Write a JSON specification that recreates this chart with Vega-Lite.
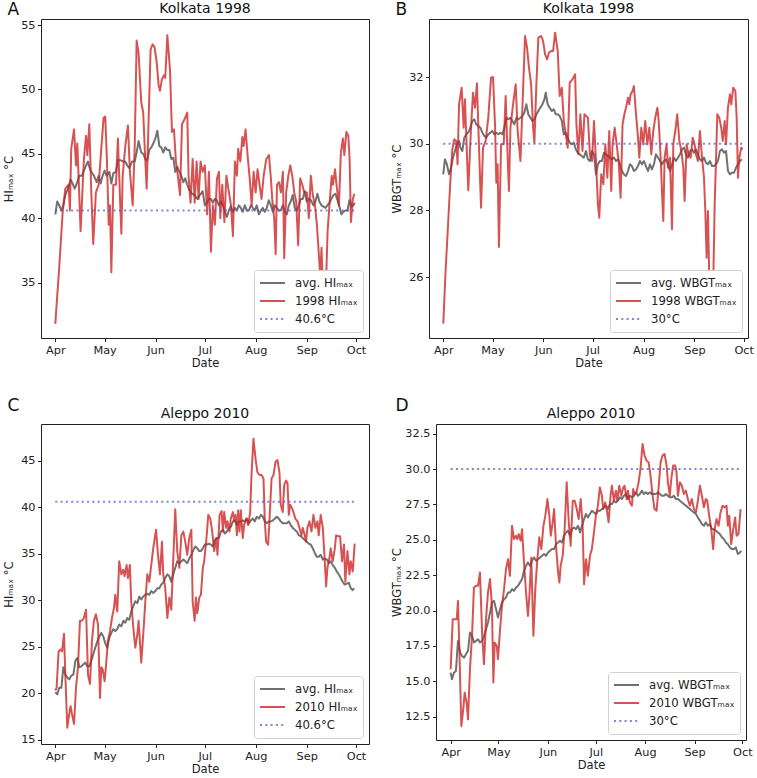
{
"$schema":"https://vega.github.io/schema/vega-lite/v6.json",
"padding":{"left":2,"top":0,"right":0,"bottom":0},
"background":"white",
"config":{
"font":"DejaVu Sans",
"view":{"stroke":"#222","strokeWidth":1},
"axis":{"domain":false,"grid":false,"tickSize":3.5,"tickColor":"#222","labelFontSize":11.3,"labelColor":"#222","labelPadding":2.5,"titleFontSize":11.5,"titleFontWeight":"normal","titleColor":"#222","labelFlush":false,"labelOverlap":false},
"axisX":{"titlePadding":2},
"title":{"fontSize":14,"fontWeight":"normal","color":"#111","offset":3},
"legend":{"symbolType":"stroke","symbolSize":625,"symbolStrokeWidth":2,"labelOffset":9,"clipHeight":16,"rowPadding":2,"padding":5,"fillColor":"white","strokeColor":"#d0d0d0","cornerRadius":3,"labelFontSize":11.7,"labelColor":"#222"}
},
"datasets":{
"A":[
{"s":"a","d":0,"v":40.3},{"s":"a","d":1.2,"v":41.3},{"s":"a","d":2.4,"v":41.0},{"s":"a","d":3.7,"v":40.6},{"s":"a","d":4.9,"v":41.0},{"s":"a","d":6.1,"v":41.8},{"s":"a","d":7.7,"v":42.3},{"s":"a","d":9.3,"v":43.0},{"s":"a","d":10.5,"v":42.7},{"s":"a","d":11.8,"v":42.3},{"s":"a","d":13.4,"v":42.8},{"s":"a","d":14.6,"v":43.3},{"s":"a","d":16.2,"v":43.3},{"s":"a","d":17.4,"v":43.7},{"s":"a","d":18.7,"v":44.1},{"s":"a","d":19.9,"v":44.4},{"s":"a","d":20.7,"v":44.0},{"s":"a","d":21.9,"v":43.6},{"s":"a","d":23.5,"v":43.3},{"s":"a","d":25.2,"v":42.8},{"s":"a","d":26.4,"v":43.3},{"s":"a","d":27.6,"v":42.7},{"s":"a","d":28.8,"v":43.3},{"s":"a","d":30,"v":43.7},{"s":"a","d":31.2,"v":43.3},{"s":"a","d":32.9,"v":43.6},{"s":"a","d":34.1,"v":42.7},{"s":"a","d":35.3,"v":43.5},{"s":"a","d":36.9,"v":43.6},{"s":"a","d":38.1,"v":44.5},{"s":"a","d":39.8,"v":44.5},{"s":"a","d":41.4,"v":44.4},{"s":"a","d":42.6,"v":44.4},{"s":"a","d":43.8,"v":44.1},{"s":"a","d":45,"v":43.9},{"s":"a","d":46.7,"v":44.4},{"s":"a","d":48.3,"v":44.4},{"s":"a","d":49.5,"v":45.1},{"s":"a","d":50.7,"v":46.0},{"s":"a","d":52.3,"v":45.1},{"s":"a","d":53.5,"v":45.0},{"s":"a","d":54.8,"v":44.6},{"s":"a","d":56,"v":44.5},{"s":"a","d":57.2,"v":45.3},{"s":"a","d":58.4,"v":45.5},{"s":"a","d":59.6,"v":45.8},{"s":"a","d":60.9,"v":46.2},{"s":"a","d":62.1,"v":46.8},{"s":"a","d":63.3,"v":45.6},{"s":"a","d":64.5,"v":45.5},{"s":"a","d":65.7,"v":45.1},{"s":"a","d":66.9,"v":45.5},{"s":"a","d":68.2,"v":45.3},{"s":"a","d":69.4,"v":45.3},{"s":"a","d":70.6,"v":44.6},{"s":"a","d":71.8,"v":44.7},{"s":"a","d":73,"v":43.6},{"s":"a","d":74.2,"v":44.0},{"s":"a","d":75.5,"v":43.6},{"s":"a","d":76.7,"v":43.3},{"s":"a","d":77.9,"v":42.8},{"s":"a","d":79.1,"v":43.1},{"s":"a","d":80.3,"v":42.6},{"s":"a","d":81.5,"v":42.2},{"s":"a","d":83.2,"v":41.9},{"s":"a","d":84.8,"v":41.8},{"s":"a","d":86.4,"v":41.5},{"s":"a","d":88,"v":41.8},{"s":"a","d":89.7,"v":42.1},{"s":"a","d":91,"v":41.0},{"s":"a","d":92.2,"v":41.2},{"s":"a","d":93.5,"v":41.5},{"s":"a","d":94.7,"v":41.5},{"s":"a","d":95.9,"v":41.2},{"s":"a","d":97.1,"v":41.5},{"s":"a","d":98.3,"v":41.4},{"s":"a","d":99.5,"v":41.0},{"s":"a","d":100.8,"v":41.3},{"s":"a","d":102,"v":41.0},{"s":"a","d":103.2,"v":40.5},{"s":"a","d":104.4,"v":40.1},{"s":"a","d":105.6,"v":40.6},{"s":"a","d":106.8,"v":40.9},{"s":"a","d":108.1,"v":40.5},{"s":"a","d":109.3,"v":40.8},{"s":"a","d":110.5,"v":40.6},{"s":"a","d":111.7,"v":41.0},{"s":"a","d":112.9,"v":40.8},{"s":"a","d":114.1,"v":40.5},{"s":"a","d":115.3,"v":41.0},{"s":"a","d":116.6,"v":40.6},{"s":"a","d":117.8,"v":40.6},{"s":"a","d":119,"v":41.0},{"s":"a","d":120.2,"v":40.8},{"s":"a","d":121.4,"v":40.6},{"s":"a","d":122.6,"v":41.0},{"s":"a","d":123.9,"v":40.3},{"s":"a","d":125.1,"v":40.6},{"s":"a","d":126.3,"v":40.8},{"s":"a","d":127.5,"v":40.5},{"s":"a","d":128.7,"v":40.8},{"s":"a","d":129.9,"v":41.4},{"s":"a","d":131.2,"v":41.0},{"s":"a","d":132.4,"v":40.5},{"s":"a","d":133.6,"v":41.0},{"s":"a","d":134.8,"v":40.8},{"s":"a","d":136,"v":40.6},{"s":"a","d":137.2,"v":40.6},{"s":"a","d":138.4,"v":41.0},{"s":"a","d":139.7,"v":40.5},{"s":"a","d":140.9,"v":40.3},{"s":"a","d":142.1,"v":41.0},{"s":"a","d":143.3,"v":41.3},{"s":"a","d":144.5,"v":41.8},{"s":"a","d":145.7,"v":40.8},{"s":"a","d":147,"v":40.6},{"s":"a","d":148.2,"v":41.0},{"s":"a","d":149.4,"v":41.5},{"s":"a","d":150.6,"v":41.5},{"s":"a","d":151.8,"v":42.1},{"s":"a","d":153,"v":41.3},{"s":"a","d":154.3,"v":41.5},{"s":"a","d":155.5,"v":41.4},{"s":"a","d":157.1,"v":41.0},{"s":"a","d":158.3,"v":41.3},{"s":"a","d":159.5,"v":41.9},{"s":"a","d":160.7,"v":41.3},{"s":"a","d":162,"v":41.0},{"s":"a","d":163.2,"v":40.9},{"s":"a","d":164.4,"v":40.8},{"s":"a","d":165.6,"v":41.0},{"s":"a","d":166.8,"v":41.2},{"s":"a","d":168,"v":41.5},{"s":"a","d":169.2,"v":41.8},{"s":"a","d":170.5,"v":41.9},{"s":"a","d":171.7,"v":41.4},{"s":"a","d":172.9,"v":40.9},{"s":"a","d":174.1,"v":40.3},{"s":"a","d":175.3,"v":40.5},{"s":"a","d":176.5,"v":40.6},{"s":"a","d":177.8,"v":40.6},{"s":"a","d":179,"v":41.4},{"s":"a","d":180.2,"v":40.9},{"s":"a","d":181.4,"v":41.0},{"s":"a","d":182.2,"v":41.2},
{"s":"o","d":0,"v":31.8},{"s":"o","d":2.4,"v":36.2},{"s":"o","d":4.5,"v":40.5},{"s":"o","d":6.1,"v":42.3},{"s":"o","d":8.1,"v":42.6},{"s":"o","d":8.9,"v":40.6},{"s":"o","d":9.7,"v":45.4},{"s":"o","d":11.4,"v":46.9},{"s":"o","d":12.6,"v":44.1},{"s":"o","d":13.4,"v":45.8},{"s":"o","d":15.4,"v":39.0},{"s":"o","d":17.4,"v":44.6},{"s":"o","d":18.7,"v":46.4},{"s":"o","d":19.5,"v":44.9},{"s":"o","d":20.7,"v":47.3},{"s":"o","d":21.9,"v":42.0},{"s":"o","d":23.1,"v":38.0},{"s":"o","d":24.7,"v":42.0},{"s":"o","d":26.4,"v":42.6},{"s":"o","d":27.8,"v":45.1},{"s":"o","d":29.4,"v":47.8},{"s":"o","d":30.4,"v":47.9},{"s":"o","d":31.4,"v":44.6},{"s":"o","d":32.5,"v":39.5},{"s":"o","d":33.3,"v":41.0},{"s":"o","d":34.1,"v":35.8},{"s":"o","d":35.3,"v":42.6},{"s":"o","d":36.9,"v":42.6},{"s":"o","d":38.1,"v":46.2},{"s":"o","d":39.4,"v":41.5},{"s":"o","d":40.2,"v":38.8},{"s":"o","d":41,"v":43.3},{"s":"o","d":42.6,"v":45.6},{"s":"o","d":44.2,"v":47.2},{"s":"o","d":45.4,"v":43.6},{"s":"o","d":47.1,"v":41.0},{"s":"o","d":48.3,"v":45.4},{"s":"o","d":49.5,"v":53.8},{"s":"o","d":50.7,"v":52.8},{"s":"o","d":52.3,"v":49.0},{"s":"o","d":53.5,"v":48.2},{"s":"o","d":54.8,"v":44.4},{"s":"o","d":55.6,"v":42.3},{"s":"o","d":56.8,"v":47.7},{"s":"o","d":58,"v":53.1},{"s":"o","d":59.2,"v":53.5},{"s":"o","d":60.4,"v":53.3},{"s":"o","d":61.7,"v":52.1},{"s":"o","d":62.9,"v":50.3},{"s":"o","d":63.7,"v":49.9},{"s":"o","d":64.9,"v":50.8},{"s":"o","d":66.1,"v":51.1},{"s":"o","d":66.9,"v":50.9},{"s":"o","d":68.2,"v":54.2},{"s":"o","d":69.8,"v":51.5},{"s":"o","d":71,"v":46.7},{"s":"o","d":72.2,"v":46.9},{"s":"o","d":73.4,"v":44.4},{"s":"o","d":74.6,"v":43.3},{"s":"o","d":75.9,"v":41.8},{"s":"o","d":77.1,"v":47.3},{"s":"o","d":78.7,"v":47.7},{"s":"o","d":80.3,"v":48.2},{"s":"o","d":81.1,"v":43.3},{"s":"o","d":82.3,"v":41.2},{"s":"o","d":83.6,"v":44.6},{"s":"o","d":84.8,"v":41.2},{"s":"o","d":86,"v":44.4},{"s":"o","d":87.2,"v":41.5},{"s":"o","d":88.4,"v":44.4},{"s":"o","d":89.7,"v":43.6},{"s":"o","d":91,"v":44.1},{"s":"o","d":92.4,"v":40.3},{"s":"o","d":93.5,"v":43.6},{"s":"o","d":94.7,"v":37.4},{"s":"o","d":95.9,"v":41.0},{"s":"o","d":97.1,"v":39.5},{"s":"o","d":98.4,"v":43.1},{"s":"o","d":99.6,"v":43.6},{"s":"o","d":100.4,"v":40.0},{"s":"o","d":101.6,"v":42.6},{"s":"o","d":102.9,"v":39.7},{"s":"o","d":104.1,"v":43.3},{"s":"o","d":105.7,"v":42.0},{"s":"o","d":106.9,"v":41.0},{"s":"o","d":108.1,"v":38.6},{"s":"o","d":109.3,"v":44.4},{"s":"o","d":110.5,"v":43.3},{"s":"o","d":111.3,"v":45.4},{"s":"o","d":112.6,"v":44.4},{"s":"o","d":113.8,"v":46.3},{"s":"o","d":114.6,"v":45.6},{"s":"o","d":115.8,"v":46.9},{"s":"o","d":117,"v":44.9},{"s":"o","d":118.3,"v":43.1},{"s":"o","d":119.5,"v":41.0},{"s":"o","d":120.7,"v":43.6},{"s":"o","d":121.9,"v":42.0},{"s":"o","d":123.1,"v":43.8},{"s":"o","d":124.3,"v":42.6},{"s":"o","d":125.5,"v":41.5},{"s":"o","d":126.8,"v":43.3},{"s":"o","d":128.4,"v":44.6},{"s":"o","d":130,"v":44.9},{"s":"o","d":131.2,"v":43.1},{"s":"o","d":132,"v":41.5},{"s":"o","d":133.2,"v":40.0},{"s":"o","d":134.1,"v":37.2},{"s":"o","d":134.9,"v":42.6},{"s":"o","d":136.1,"v":42.8},{"s":"o","d":137.3,"v":42.0},{"s":"o","d":138.5,"v":43.6},{"s":"o","d":139.3,"v":36.9},{"s":"o","d":140.5,"v":42.0},{"s":"o","d":141.8,"v":43.3},{"s":"o","d":143,"v":44.1},{"s":"o","d":144.2,"v":43.3},{"s":"o","d":145.4,"v":42.0},{"s":"o","d":146.6,"v":41.3},{"s":"o","d":147.8,"v":37.9},{"s":"o","d":149,"v":43.1},{"s":"o","d":150.3,"v":42.6},{"s":"o","d":151.5,"v":42.0},{"s":"o","d":153.1,"v":42.0},{"s":"o","d":154.3,"v":40.0},{"s":"o","d":155.5,"v":43.3},{"s":"o","d":156.7,"v":41.8},{"s":"o","d":158,"v":41.0},{"s":"o","d":159.2,"v":39.5},{"s":"o","d":160,"v":37.9},{"s":"o","d":161.2,"v":35.6},{"s":"o","d":162,"v":37.7},{"s":"o","d":162.9,"v":34.4},{"s":"o","d":163.7,"v":32.8},{"s":"o","d":164.9,"v":35.6},{"s":"o","d":165.7,"v":39.0},{"s":"o","d":167,"v":41.3},{"s":"o","d":168.2,"v":43.3},{"s":"o","d":169,"v":42.6},{"s":"o","d":170.2,"v":43.8},{"s":"o","d":171.4,"v":42.3},{"s":"o","d":172.6,"v":41.0},{"s":"o","d":173.8,"v":45.1},{"s":"o","d":175,"v":46.2},{"s":"o","d":175.9,"v":44.9},{"s":"o","d":177.1,"v":46.7},{"s":"o","d":178.3,"v":46.4},{"s":"o","d":179.1,"v":44.6},{"s":"o","d":179.9,"v":39.7},{"s":"o","d":181.1,"v":41.5},{"s":"o","d":182,"v":41.9},
{"s":"t","d":0,"v":40.6},{"s":"t","d":182,"v":40.6}
],
"B":[
{"s":"a","d":0,"v":29.08},{"s":"a","d":1,"v":29.53},{"s":"a","d":2.2,"v":29.38},{"s":"a","d":3.5,"v":29.08},{"s":"a","d":4.7,"v":29.28},{"s":"a","d":5.9,"v":29.58},{"s":"a","d":7.1,"v":29.78},{"s":"a","d":8.3,"v":29.98},{"s":"a","d":9.6,"v":30.08},{"s":"a","d":10.4,"v":29.88},{"s":"a","d":11.6,"v":29.78},{"s":"a","d":12.8,"v":30.18},{"s":"a","d":14,"v":30.28},{"s":"a","d":15.2,"v":30.33},{"s":"a","d":16.5,"v":30.48},{"s":"a","d":17.7,"v":30.68},{"s":"a","d":18.9,"v":30.73},{"s":"a","d":20.1,"v":30.58},{"s":"a","d":21.3,"v":30.53},{"s":"a","d":22.6,"v":30.48},{"s":"a","d":23.8,"v":30.33},{"s":"a","d":25,"v":30.23},{"s":"a","d":26.2,"v":30.18},{"s":"a","d":27.4,"v":30.28},{"s":"a","d":28.7,"v":30.33},{"s":"a","d":29.9,"v":30.38},{"s":"a","d":31.1,"v":30.28},{"s":"a","d":32.3,"v":30.33},{"s":"a","d":33.5,"v":30.28},{"s":"a","d":34.8,"v":30.33},{"s":"a","d":36,"v":30.28},{"s":"a","d":37.2,"v":30.48},{"s":"a","d":38.4,"v":30.78},{"s":"a","d":39.6,"v":30.73},{"s":"a","d":40.9,"v":30.78},{"s":"a","d":42.1,"v":30.68},{"s":"a","d":43.3,"v":30.58},{"s":"a","d":44.5,"v":30.78},{"s":"a","d":45.7,"v":30.73},{"s":"a","d":47,"v":30.78},{"s":"a","d":48.2,"v":30.83},{"s":"a","d":49.4,"v":30.93},{"s":"a","d":50.6,"v":31.18},{"s":"a","d":51.8,"v":30.88},{"s":"a","d":53,"v":30.78},{"s":"a","d":54.3,"v":30.68},{"s":"a","d":55.5,"v":30.73},{"s":"a","d":56.7,"v":30.88},{"s":"a","d":57.9,"v":30.98},{"s":"a","d":59.1,"v":31.08},{"s":"a","d":60.4,"v":31.18},{"s":"a","d":61.6,"v":31.33},{"s":"a","d":62.4,"v":31.53},{"s":"a","d":63.6,"v":31.18},{"s":"a","d":64.8,"v":31.08},{"s":"a","d":66.1,"v":30.98},{"s":"a","d":67.3,"v":31.03},{"s":"a","d":68.5,"v":30.88},{"s":"a","d":69.7,"v":30.88},{"s":"a","d":70.9,"v":30.83},{"s":"a","d":72.2,"v":30.68},{"s":"a","d":73.4,"v":30.28},{"s":"a","d":74.6,"v":30.33},{"s":"a","d":75.8,"v":30.18},{"s":"a","d":77,"v":30.03},{"s":"a","d":78.3,"v":29.98},{"s":"a","d":79.5,"v":30.03},{"s":"a","d":80.7,"v":29.83},{"s":"a","d":81.9,"v":29.73},{"s":"a","d":83.1,"v":29.68},{"s":"a","d":84.3,"v":29.63},{"s":"a","d":85.6,"v":29.58},{"s":"a","d":86.9,"v":29.78},{"s":"a","d":88.1,"v":29.53},{"s":"a","d":89.3,"v":29.48},{"s":"a","d":90.6,"v":29.78},{"s":"a","d":91.8,"v":29.68},{"s":"a","d":93,"v":29.08},{"s":"a","d":94.2,"v":29.38},{"s":"a","d":95.4,"v":29.48},{"s":"a","d":96.6,"v":29.48},{"s":"a","d":97.9,"v":29.73},{"s":"a","d":99.1,"v":29.68},{"s":"a","d":100.3,"v":29.63},{"s":"a","d":101.5,"v":29.58},{"s":"a","d":102.7,"v":29.53},{"s":"a","d":104,"v":29.58},{"s":"a","d":105.2,"v":29.48},{"s":"a","d":106.4,"v":29.53},{"s":"a","d":107.6,"v":29.38},{"s":"a","d":108.8,"v":29.18},{"s":"a","d":110,"v":29.08},{"s":"a","d":111.3,"v":29.03},{"s":"a","d":112.5,"v":29.18},{"s":"a","d":113.7,"v":29.38},{"s":"a","d":114.9,"v":29.33},{"s":"a","d":116.1,"v":29.18},{"s":"a","d":117.4,"v":29.23},{"s":"a","d":118.6,"v":29.33},{"s":"a","d":119.8,"v":29.48},{"s":"a","d":121,"v":29.38},{"s":"a","d":122.2,"v":29.48},{"s":"a","d":123.4,"v":29.33},{"s":"a","d":124.7,"v":29.18},{"s":"a","d":125.9,"v":29.38},{"s":"a","d":127.1,"v":29.23},{"s":"a","d":128.3,"v":29.38},{"s":"a","d":129.5,"v":29.68},{"s":"a","d":130.8,"v":29.58},{"s":"a","d":132,"v":29.48},{"s":"a","d":133.2,"v":29.38},{"s":"a","d":134.4,"v":29.48},{"s":"a","d":135.6,"v":29.53},{"s":"a","d":136.9,"v":29.38},{"s":"a","d":138.1,"v":29.18},{"s":"a","d":139.3,"v":29.38},{"s":"a","d":140.5,"v":29.58},{"s":"a","d":141.7,"v":29.48},{"s":"a","d":142.9,"v":29.58},{"s":"a","d":144.2,"v":29.68},{"s":"a","d":145.4,"v":29.83},{"s":"a","d":146.6,"v":29.88},{"s":"a","d":147.8,"v":29.68},{"s":"a","d":149,"v":29.58},{"s":"a","d":150.3,"v":29.78},{"s":"a","d":151.5,"v":29.83},{"s":"a","d":152.7,"v":29.73},{"s":"a","d":153.9,"v":29.83},{"s":"a","d":155.1,"v":29.68},{"s":"a","d":156.3,"v":29.53},{"s":"a","d":157.6,"v":29.48},{"s":"a","d":158.8,"v":29.58},{"s":"a","d":160,"v":29.43},{"s":"a","d":161.2,"v":29.38},{"s":"a","d":162.4,"v":29.48},{"s":"a","d":163.7,"v":29.33},{"s":"a","d":164.9,"v":29.33},{"s":"a","d":166.1,"v":29.38},{"s":"a","d":167.3,"v":29.48},{"s":"a","d":168.5,"v":29.78},{"s":"a","d":169.7,"v":29.83},{"s":"a","d":171,"v":29.73},{"s":"a","d":172.2,"v":29.78},{"s":"a","d":173.4,"v":29.18},{"s":"a","d":174.6,"v":29.08},{"s":"a","d":175.8,"v":29.13},{"s":"a","d":177.1,"v":29.13},{"s":"a","d":178.3,"v":29.28},{"s":"a","d":179.5,"v":29.38},{"s":"a","d":180.7,"v":29.48},{"s":"a","d":181.9,"v":29.53},
{"s":"o","d":0,"v":24.6},{"s":"o","d":1.4,"v":26.18},{"s":"o","d":2.6,"v":27.28},{"s":"o","d":4.3,"v":28.88},{"s":"o","d":5.5,"v":29.83},{"s":"o","d":6.7,"v":30.13},{"s":"o","d":7.9,"v":30.08},{"s":"o","d":8.7,"v":29.38},{"s":"o","d":9.6,"v":31.18},{"s":"o","d":11.2,"v":31.68},{"s":"o","d":12.4,"v":30.48},{"s":"o","d":13.2,"v":31.33},{"s":"o","d":15.2,"v":28.6},{"s":"o","d":16.9,"v":30.48},{"s":"o","d":18.1,"v":31.53},{"s":"o","d":19.3,"v":31.08},{"s":"o","d":20.5,"v":31.81},{"s":"o","d":21.7,"v":29.98},{"s":"o","d":23,"v":28.08},{"s":"o","d":24.2,"v":29.88},{"s":"o","d":25.8,"v":30.08},{"s":"o","d":27.4,"v":30.78},{"s":"o","d":29.1,"v":31.98},{"s":"o","d":30.3,"v":32.0},{"s":"o","d":31.5,"v":30.58},{"s":"o","d":32.3,"v":28.83},{"s":"o","d":33.1,"v":29.38},{"s":"o","d":33.9,"v":26.9},{"s":"o","d":35.2,"v":29.98},{"s":"o","d":36.8,"v":29.98},{"s":"o","d":38,"v":31.43},{"s":"o","d":39.2,"v":29.58},{"s":"o","d":40,"v":28.58},{"s":"o","d":40.9,"v":30.48},{"s":"o","d":42.5,"v":31.18},{"s":"o","d":44.1,"v":31.78},{"s":"o","d":45.3,"v":30.38},{"s":"o","d":47,"v":29.48},{"s":"o","d":48.2,"v":31.08},{"s":"o","d":49.8,"v":33.23},{"s":"o","d":51,"v":32.88},{"s":"o","d":52.2,"v":32.28},{"s":"o","d":53.5,"v":31.78},{"s":"o","d":54.7,"v":30.48},{"s":"o","d":55.5,"v":30.03},{"s":"o","d":56.7,"v":31.78},{"s":"o","d":57.9,"v":33.18},{"s":"o","d":59.6,"v":33.23},{"s":"o","d":60.8,"v":33.08},{"s":"o","d":62,"v":32.68},{"s":"o","d":63.2,"v":32.53},{"s":"o","d":64.4,"v":32.73},{"s":"o","d":65.7,"v":32.78},{"s":"o","d":66.9,"v":32.78},{"s":"o","d":68.1,"v":33.33},{"s":"o","d":69.7,"v":32.78},{"s":"o","d":70.9,"v":31.43},{"s":"o","d":72.2,"v":31.68},{"s":"o","d":73.4,"v":30.68},{"s":"o","d":74.6,"v":30.28},{"s":"o","d":75.8,"v":29.88},{"s":"o","d":77,"v":31.83},{"s":"o","d":78.7,"v":31.93},{"s":"o","d":80.3,"v":32.08},{"s":"o","d":81.1,"v":30.58},{"s":"o","d":82.3,"v":29.68},{"s":"o","d":83.5,"v":30.88},{"s":"o","d":84.8,"v":29.78},{"s":"o","d":86,"v":30.88},{"s":"o","d":88.1,"v":30.78},{"s":"o","d":89.3,"v":29.68},{"s":"o","d":90.6,"v":29.48},{"s":"o","d":91.8,"v":30.68},{"s":"o","d":93,"v":29.48},{"s":"o","d":94.2,"v":28.18},{"s":"o","d":95,"v":27.78},{"s":"o","d":96.2,"v":29.08},{"s":"o","d":97.5,"v":28.78},{"s":"o","d":98.7,"v":29.98},{"s":"o","d":99.9,"v":28.98},{"s":"o","d":101.1,"v":30.38},{"s":"o","d":102.3,"v":28.58},{"s":"o","d":103.1,"v":29.98},{"s":"o","d":104.4,"v":30.48},{"s":"o","d":105.6,"v":29.98},{"s":"o","d":106.8,"v":29.48},{"s":"o","d":108,"v":28.38},{"s":"o","d":109.2,"v":30.58},{"s":"o","d":110.5,"v":30.93},{"s":"o","d":111.3,"v":31.08},{"s":"o","d":112.5,"v":31.38},{"s":"o","d":113.3,"v":31.18},{"s":"o","d":114.1,"v":31.48},{"s":"o","d":115.3,"v":31.58},{"s":"o","d":116.1,"v":31.73},{"s":"o","d":117.4,"v":30.88},{"s":"o","d":118.6,"v":30.18},{"s":"o","d":119.4,"v":29.58},{"s":"o","d":120.6,"v":30.48},{"s":"o","d":121.8,"v":29.98},{"s":"o","d":123,"v":30.68},{"s":"o","d":124.3,"v":29.98},{"s":"o","d":125.5,"v":30.48},{"s":"o","d":126.7,"v":29.68},{"s":"o","d":127.9,"v":30.38},{"s":"o","d":129.1,"v":30.78},{"s":"o","d":130.4,"v":31.08},{"s":"o","d":131.2,"v":30.68},{"s":"o","d":132.4,"v":29.58},{"s":"o","d":133.2,"v":28.58},{"s":"o","d":134,"v":27.68},{"s":"o","d":134.8,"v":29.58},{"s":"o","d":136,"v":29.98},{"s":"o","d":136.9,"v":29.28},{"s":"o","d":138.1,"v":29.58},{"s":"o","d":139.3,"v":27.43},{"s":"o","d":140.1,"v":29.98},{"s":"o","d":141.3,"v":30.38},{"s":"o","d":142.5,"v":30.88},{"s":"o","d":143.8,"v":30.08},{"s":"o","d":145,"v":29.78},{"s":"o","d":146.2,"v":29.28},{"s":"o","d":147,"v":28.28},{"s":"o","d":148.2,"v":29.98},{"s":"o","d":149.4,"v":29.68},{"s":"o","d":150.7,"v":29.58},{"s":"o","d":151.9,"v":30.18},{"s":"o","d":153.1,"v":29.98},{"s":"o","d":153.9,"v":29.68},{"s":"o","d":155.1,"v":29.48},{"s":"o","d":156.3,"v":30.38},{"s":"o","d":157.6,"v":29.58},{"s":"o","d":158.8,"v":28.98},{"s":"o","d":159.6,"v":27.98},{"s":"o","d":160.4,"v":26.58},{"s":"o","d":161.2,"v":27.98},{"s":"o","d":162,"v":25.98},{"s":"o","d":162.8,"v":25.18},{"s":"o","d":163.6,"v":25.78},{"s":"o","d":164.5,"v":25.98},{"s":"o","d":165.3,"v":28.18},{"s":"o","d":166.1,"v":29.48},{"s":"o","d":166.9,"v":30.88},{"s":"o","d":168.1,"v":30.78},{"s":"o","d":169.3,"v":30.48},{"s":"o","d":170.2,"v":30.08},{"s":"o","d":171.4,"v":30.68},{"s":"o","d":172.2,"v":29.98},{"s":"o","d":173.4,"v":31.08},{"s":"o","d":174.6,"v":31.48},{"s":"o","d":175.4,"v":31.18},{"s":"o","d":176.6,"v":31.68},{"s":"o","d":177.9,"v":31.58},{"s":"o","d":178.7,"v":30.78},{"s":"o","d":179.5,"v":28.98},{"s":"o","d":180.3,"v":29.58},{"s":"o","d":181.5,"v":29.88},{"s":"o","d":182.3,"v":29.83},
{"s":"t","d":0,"v":30},{"s":"t","d":182,"v":30}
],
"C":[
{"s":"a","d":0,"v":20.1},{"s":"a","d":1.2,"v":19.9},{"s":"a","d":2.4,"v":20.6},{"s":"a","d":3.7,"v":20.6},{"s":"a","d":4.9,"v":22.8},{"s":"a","d":6.1,"v":22.0},{"s":"a","d":7.3,"v":21.7},{"s":"a","d":8.5,"v":21.5},{"s":"a","d":9.7,"v":21.9},{"s":"a","d":11,"v":22.0},{"s":"a","d":12.2,"v":23.5},{"s":"a","d":13.4,"v":23.8},{"s":"a","d":14.6,"v":22.8},{"s":"a","d":15.8,"v":22.9},{"s":"a","d":17,"v":23.1},{"s":"a","d":18.3,"v":23.3},{"s":"a","d":19.5,"v":22.9},{"s":"a","d":20.7,"v":22.9},{"s":"a","d":21.9,"v":23.5},{"s":"a","d":23.1,"v":24.2},{"s":"a","d":24.3,"v":24.9},{"s":"a","d":25.6,"v":25.6},{"s":"a","d":26.8,"v":26.1},{"s":"a","d":28,"v":26.5},{"s":"a","d":29.2,"v":26.1},{"s":"a","d":30.4,"v":25.4},{"s":"a","d":31.6,"v":24.9},{"s":"a","d":32.9,"v":26.0},{"s":"a","d":34.1,"v":26.5},{"s":"a","d":35.3,"v":26.9},{"s":"a","d":36.5,"v":26.7},{"s":"a","d":37.7,"v":26.9},{"s":"a","d":38.9,"v":27.4},{"s":"a","d":40.2,"v":27.2},{"s":"a","d":41.4,"v":27.8},{"s":"a","d":42.6,"v":27.6},{"s":"a","d":43.8,"v":28.1},{"s":"a","d":45,"v":27.9},{"s":"a","d":46.2,"v":28.8},{"s":"a","d":47.5,"v":29.4},{"s":"a","d":48.7,"v":29.9},{"s":"a","d":49.9,"v":29.7},{"s":"a","d":51.1,"v":30.4},{"s":"a","d":52.3,"v":30.1},{"s":"a","d":53.5,"v":30.4},{"s":"a","d":54.8,"v":30.6},{"s":"a","d":56,"v":30.7},{"s":"a","d":57.2,"v":30.6},{"s":"a","d":58.4,"v":31.0},{"s":"a","d":59.6,"v":30.8},{"s":"a","d":60.9,"v":31.0},{"s":"a","d":62.1,"v":31.3},{"s":"a","d":63.3,"v":31.3},{"s":"a","d":64.5,"v":31.7},{"s":"a","d":65.7,"v":31.9},{"s":"a","d":66.9,"v":32.4},{"s":"a","d":68.2,"v":32.8},{"s":"a","d":69.4,"v":32.6},{"s":"a","d":70.6,"v":32.0},{"s":"a","d":71.8,"v":32.8},{"s":"a","d":73,"v":33.5},{"s":"a","d":74.2,"v":34.2},{"s":"a","d":75.5,"v":34.0},{"s":"a","d":76.7,"v":34.2},{"s":"a","d":77.9,"v":34.4},{"s":"a","d":79.1,"v":34.2},{"s":"a","d":80.3,"v":34.0},{"s":"a","d":81.5,"v":34.5},{"s":"a","d":82.8,"v":34.9},{"s":"a","d":84,"v":35.4},{"s":"a","d":85.2,"v":35.8},{"s":"a","d":86.4,"v":35.6},{"s":"a","d":87.6,"v":35.3},{"s":"a","d":88.6,"v":35.3},{"s":"a","d":89.8,"v":35.6},{"s":"a","d":91,"v":36.0},{"s":"a","d":92.2,"v":36.0},{"s":"a","d":93.5,"v":36.1},{"s":"a","d":94.7,"v":36.0},{"s":"a","d":95.9,"v":35.8},{"s":"a","d":97.1,"v":36.5},{"s":"a","d":98.3,"v":36.7},{"s":"a","d":99.5,"v":36.7},{"s":"a","d":100.8,"v":37.4},{"s":"a","d":102,"v":37.6},{"s":"a","d":103.2,"v":37.2},{"s":"a","d":104.4,"v":37.4},{"s":"a","d":105.6,"v":37.8},{"s":"a","d":106.8,"v":37.9},{"s":"a","d":108.1,"v":38.5},{"s":"a","d":109.3,"v":38.6},{"s":"a","d":110.5,"v":38.1},{"s":"a","d":111.7,"v":38.5},{"s":"a","d":112.9,"v":38.5},{"s":"a","d":114.1,"v":38.6},{"s":"a","d":115.3,"v":38.5},{"s":"a","d":116.6,"v":38.8},{"s":"a","d":117.8,"v":38.3},{"s":"a","d":119,"v":38.6},{"s":"a","d":120.2,"v":38.8},{"s":"a","d":121.4,"v":38.5},{"s":"a","d":122.6,"v":39.0},{"s":"a","d":123.9,"v":38.8},{"s":"a","d":125.1,"v":39.2},{"s":"a","d":126.3,"v":39.0},{"s":"a","d":127.5,"v":38.5},{"s":"a","d":128.7,"v":38.3},{"s":"a","d":129.9,"v":38.5},{"s":"a","d":131.2,"v":38.5},{"s":"a","d":132.4,"v":38.6},{"s":"a","d":133.6,"v":38.8},{"s":"a","d":134.8,"v":39.0},{"s":"a","d":136,"v":38.8},{"s":"a","d":137.2,"v":38.5},{"s":"a","d":138.4,"v":38.3},{"s":"a","d":139.7,"v":38.3},{"s":"a","d":140.9,"v":38.3},{"s":"a","d":142.1,"v":38.5},{"s":"a","d":143.3,"v":38.1},{"s":"a","d":144.5,"v":37.8},{"s":"a","d":145.7,"v":37.6},{"s":"a","d":147,"v":37.4},{"s":"a","d":148.2,"v":37.0},{"s":"a","d":149.4,"v":36.9},{"s":"a","d":150.6,"v":36.7},{"s":"a","d":151.8,"v":36.5},{"s":"a","d":153,"v":36.3},{"s":"a","d":154.3,"v":36.1},{"s":"a","d":155.5,"v":36.0},{"s":"a","d":156.7,"v":35.6},{"s":"a","d":157.9,"v":35.1},{"s":"a","d":159.1,"v":34.7},{"s":"a","d":160.3,"v":34.7},{"s":"a","d":161.5,"v":34.9},{"s":"a","d":162.8,"v":34.4},{"s":"a","d":164,"v":34.5},{"s":"a","d":165.2,"v":34.4},{"s":"a","d":166.4,"v":34.0},{"s":"a","d":167.6,"v":34.2},{"s":"a","d":168.8,"v":33.8},{"s":"a","d":170.1,"v":33.5},{"s":"a","d":171.3,"v":33.1},{"s":"a","d":172.5,"v":32.8},{"s":"a","d":173.7,"v":32.4},{"s":"a","d":174.9,"v":32.0},{"s":"a","d":176.1,"v":31.7},{"s":"a","d":177.4,"v":31.8},{"s":"a","d":178.6,"v":31.9},{"s":"a","d":179.8,"v":31.3},{"s":"a","d":181,"v":31.1},{"s":"a","d":181.8,"v":31.3},
{"s":"o","d":0,"v":20.3},{"s":"o","d":0.8,"v":20.6},{"s":"o","d":2,"v":24.5},{"s":"o","d":3.2,"v":24.7},{"s":"o","d":4.1,"v":24.5},{"s":"o","d":5.3,"v":26.4},{"s":"o","d":6.1,"v":22.0},{"s":"o","d":7.3,"v":16.3},{"s":"o","d":8.5,"v":17.8},{"s":"o","d":9.3,"v":18.6},{"s":"o","d":10.1,"v":17.8},{"s":"o","d":11.4,"v":16.7},{"s":"o","d":12.6,"v":20.6},{"s":"o","d":13.8,"v":22.8},{"s":"o","d":15,"v":27.8},{"s":"o","d":16.2,"v":27.8},{"s":"o","d":17.4,"v":28.1},{"s":"o","d":18.7,"v":29.0},{"s":"o","d":19.9,"v":22.0},{"s":"o","d":21.1,"v":21.0},{"s":"o","d":22.3,"v":25.6},{"s":"o","d":23.5,"v":27.8},{"s":"o","d":24.7,"v":28.5},{"s":"o","d":26,"v":27.4},{"s":"o","d":27.2,"v":19.5},{"s":"o","d":28,"v":22.8},{"s":"o","d":28.8,"v":22.6},{"s":"o","d":30,"v":21.3},{"s":"o","d":30.8,"v":22.8},{"s":"o","d":32,"v":25.6},{"s":"o","d":33.3,"v":26.7},{"s":"o","d":34.5,"v":28.1},{"s":"o","d":35.7,"v":29.2},{"s":"o","d":36.5,"v":30.6},{"s":"o","d":37.7,"v":28.8},{"s":"o","d":38.9,"v":34.2},{"s":"o","d":40.2,"v":32.8},{"s":"o","d":41.4,"v":33.3},{"s":"o","d":42.2,"v":32.6},{"s":"o","d":43.4,"v":33.8},{"s":"o","d":44.2,"v":32.4},{"s":"o","d":45.4,"v":33.8},{"s":"o","d":46.2,"v":29.9},{"s":"o","d":47.5,"v":27.0},{"s":"o","d":48.7,"v":24.9},{"s":"o","d":49.9,"v":26.3},{"s":"o","d":50.7,"v":27.8},{"s":"o","d":51.5,"v":25.6},{"s":"o","d":52.3,"v":23.3},{"s":"o","d":53.5,"v":26.3},{"s":"o","d":54.8,"v":29.9},{"s":"o","d":56,"v":32.8},{"s":"o","d":57.2,"v":32.0},{"s":"o","d":58.4,"v":33.8},{"s":"o","d":59.6,"v":35.6},{"s":"o","d":61.3,"v":37.6},{"s":"o","d":62.5,"v":34.9},{"s":"o","d":63.7,"v":32.8},{"s":"o","d":64.9,"v":36.3},{"s":"o","d":65.7,"v":32.8},{"s":"o","d":66.9,"v":31.3},{"s":"o","d":68.2,"v":28.1},{"s":"o","d":69.4,"v":30.3},{"s":"o","d":70.6,"v":29.0},{"s":"o","d":71.8,"v":34.5},{"s":"o","d":73,"v":39.8},{"s":"o","d":74.2,"v":35.3},{"s":"o","d":75.5,"v":33.5},{"s":"o","d":76.7,"v":37.0},{"s":"o","d":77.9,"v":37.4},{"s":"o","d":79.1,"v":36.3},{"s":"o","d":80.3,"v":34.9},{"s":"o","d":81.5,"v":36.7},{"s":"o","d":82.8,"v":37.6},{"s":"o","d":83.6,"v":29.9},{"s":"o","d":84.8,"v":27.8},{"s":"o","d":85.6,"v":30.3},{"s":"o","d":86.4,"v":28.6},{"s":"o","d":87.6,"v":30.3},{"s":"o","d":88.6,"v":30.6},{"s":"o","d":89.8,"v":33.5},{"s":"o","d":90.6,"v":34.2},{"s":"o","d":91.8,"v":36.3},{"s":"o","d":93.1,"v":39.2},{"s":"o","d":94.3,"v":38.8},{"s":"o","d":95.5,"v":37.4},{"s":"o","d":96.7,"v":35.3},{"s":"o","d":97.9,"v":36.7},{"s":"o","d":98.7,"v":34.9},{"s":"o","d":100,"v":39.2},{"s":"o","d":101.2,"v":39.6},{"s":"o","d":102,"v":37.4},{"s":"o","d":102.8,"v":39.5},{"s":"o","d":104,"v":37.8},{"s":"o","d":104.8,"v":38.5},{"s":"o","d":106,"v":37.4},{"s":"o","d":106.8,"v":38.8},{"s":"o","d":108.1,"v":39.5},{"s":"o","d":108.9,"v":38.5},{"s":"o","d":109.7,"v":39.2},{"s":"o","d":110.5,"v":37.0},{"s":"o","d":111.3,"v":39.7},{"s":"o","d":112.1,"v":37.4},{"s":"o","d":112.9,"v":39.7},{"s":"o","d":114.1,"v":36.7},{"s":"o","d":114.9,"v":38.1},{"s":"o","d":116.2,"v":38.8},{"s":"o","d":117.4,"v":38.1},{"s":"o","d":118.6,"v":39.5},{"s":"o","d":119.4,"v":43.5},{"s":"o","d":120.6,"v":47.4},{"s":"o","d":121.8,"v":45.3},{"s":"o","d":123,"v":43.8},{"s":"o","d":124.3,"v":43.5},{"s":"o","d":125.5,"v":43.5},{"s":"o","d":126.7,"v":43.1},{"s":"o","d":127.5,"v":38.5},{"s":"o","d":128.3,"v":36.3},{"s":"o","d":129.5,"v":36.0},{"s":"o","d":130.3,"v":38.5},{"s":"o","d":131.6,"v":43.1},{"s":"o","d":132.8,"v":43.5},{"s":"o","d":134,"v":44.9},{"s":"o","d":135.2,"v":45.1},{"s":"o","d":136.4,"v":43.8},{"s":"o","d":137.2,"v":40.3},{"s":"o","d":138.4,"v":39.5},{"s":"o","d":139.3,"v":42.4},{"s":"o","d":140.5,"v":42.9},{"s":"o","d":141.3,"v":42.6},{"s":"o","d":142.1,"v":39.2},{"s":"o","d":142.9,"v":40.3},{"s":"o","d":144.1,"v":39.9},{"s":"o","d":144.9,"v":39.5},{"s":"o","d":146.1,"v":38.8},{"s":"o","d":147.4,"v":38.5},{"s":"o","d":148.6,"v":37.8},{"s":"o","d":149.8,"v":37.0},{"s":"o","d":150.6,"v":37.8},{"s":"o","d":151.8,"v":37.0},{"s":"o","d":152.6,"v":36.3},{"s":"o","d":153.4,"v":37.8},{"s":"o","d":154.7,"v":38.5},{"s":"o","d":155.9,"v":37.4},{"s":"o","d":157.1,"v":39.2},{"s":"o","d":158.3,"v":37.8},{"s":"o","d":159.5,"v":38.5},{"s":"o","d":160.3,"v":37.0},{"s":"o","d":161.5,"v":39.2},{"s":"o","d":162.8,"v":37.8},{"s":"o","d":164,"v":34.2},{"s":"o","d":164.8,"v":31.5},{"s":"o","d":165.6,"v":33.5},{"s":"o","d":166.8,"v":34.5},{"s":"o","d":167.6,"v":35.6},{"s":"o","d":168.8,"v":34.2},{"s":"o","d":170.1,"v":35.6},{"s":"o","d":170.9,"v":37.0},{"s":"o","d":172.1,"v":36.9},{"s":"o","d":173.3,"v":36.9},{"s":"o","d":174.5,"v":34.2},{"s":"o","d":175.7,"v":36.0},{"s":"o","d":176.5,"v":32.0},{"s":"o","d":177.8,"v":35.3},{"s":"o","d":179,"v":32.8},{"s":"o","d":179.8,"v":34.2},{"s":"o","d":181,"v":33.1},{"s":"o","d":182.2,"v":36.1},
{"s":"t","d":0,"v":40.6},{"s":"t","d":182,"v":40.6}
],
"D":[
{"s":"a","d":0,"v":15.61},{"s":"a","d":0.8,"v":15.14},{"s":"a","d":2.1,"v":15.61},{"s":"a","d":3.3,"v":15.73},{"s":"a","d":4.6,"v":17.85},{"s":"a","d":5.9,"v":17.03},{"s":"a","d":7.1,"v":16.79},{"s":"a","d":8.4,"v":16.67},{"s":"a","d":9.6,"v":16.91},{"s":"a","d":10.9,"v":17.15},{"s":"a","d":12.1,"v":18.44},{"s":"a","d":13.4,"v":18.21},{"s":"a","d":14.6,"v":17.74},{"s":"a","d":15.9,"v":17.85},{"s":"a","d":17.2,"v":17.97},{"s":"a","d":18.4,"v":17.74},{"s":"a","d":19.7,"v":17.85},{"s":"a","d":20.9,"v":18.21},{"s":"a","d":22.2,"v":18.68},{"s":"a","d":23.4,"v":19.15},{"s":"a","d":24.7,"v":19.86},{"s":"a","d":25.9,"v":20.57},{"s":"a","d":27.2,"v":20.68},{"s":"a","d":28.5,"v":20.09},{"s":"a","d":29.7,"v":19.5},{"s":"a","d":31,"v":20.09},{"s":"a","d":32.2,"v":20.57},{"s":"a","d":33.5,"v":20.8},{"s":"a","d":34.7,"v":20.92},{"s":"a","d":36,"v":21.27},{"s":"a","d":37.2,"v":21.27},{"s":"a","d":38.5,"v":21.51},{"s":"a","d":39.7,"v":21.39},{"s":"a","d":41,"v":21.63},{"s":"a","d":42.3,"v":21.75},{"s":"a","d":43.5,"v":21.98},{"s":"a","d":44.8,"v":22.22},{"s":"a","d":46,"v":22.81},{"s":"a","d":47.3,"v":23.16},{"s":"a","d":48.5,"v":23.4},{"s":"a","d":49.8,"v":23.16},{"s":"a","d":51,"v":23.51},{"s":"a","d":52.3,"v":23.75},{"s":"a","d":53.6,"v":23.51},{"s":"a","d":54.8,"v":23.63},{"s":"a","d":56.1,"v":23.75},{"s":"a","d":57.3,"v":23.87},{"s":"a","d":58.6,"v":23.99},{"s":"a","d":59.8,"v":23.87},{"s":"a","d":61.1,"v":24.1},{"s":"a","d":62.3,"v":24.22},{"s":"a","d":63.6,"v":24.34},{"s":"a","d":64.9,"v":24.34},{"s":"a","d":66.1,"v":24.69},{"s":"a","d":67.4,"v":24.81},{"s":"a","d":68.6,"v":24.93},{"s":"a","d":69.9,"v":24.81},{"s":"a","d":71.1,"v":25.28},{"s":"a","d":72.4,"v":25.52},{"s":"a","d":73.6,"v":25.64},{"s":"a","d":74.9,"v":25.28},{"s":"a","d":76.2,"v":25.75},{"s":"a","d":77.4,"v":25.87},{"s":"a","d":78.7,"v":25.75},{"s":"a","d":79.9,"v":25.99},{"s":"a","d":81.2,"v":25.52},{"s":"a","d":82.4,"v":25.99},{"s":"a","d":83.7,"v":26.46},{"s":"a","d":84.9,"v":26.82},{"s":"a","d":86.1,"v":26.58},{"s":"a","d":87.4,"v":26.82},{"s":"a","d":88.6,"v":27.05},{"s":"a","d":89.9,"v":26.93},{"s":"a","d":91.1,"v":26.82},{"s":"a","d":92.4,"v":27.05},{"s":"a","d":93.6,"v":27.05},{"s":"a","d":94.9,"v":27.17},{"s":"a","d":96.1,"v":27.29},{"s":"a","d":97.4,"v":27.41},{"s":"a","d":98.6,"v":27.17},{"s":"a","d":99.9,"v":27.52},{"s":"a","d":101.2,"v":27.52},{"s":"a","d":102.4,"v":27.76},{"s":"a","d":103.7,"v":27.64},{"s":"a","d":104.9,"v":27.76},{"s":"a","d":106.2,"v":28.0},{"s":"a","d":107.4,"v":27.88},{"s":"a","d":108.7,"v":28.11},{"s":"a","d":109.9,"v":28.23},{"s":"a","d":111.2,"v":27.88},{"s":"a","d":112.4,"v":28.11},{"s":"a","d":113.7,"v":28.0},{"s":"a","d":115,"v":28.11},{"s":"a","d":116.2,"v":28.35},{"s":"a","d":117.5,"v":28.11},{"s":"a","d":118.7,"v":28.23},{"s":"a","d":120,"v":28.47},{"s":"a","d":121.2,"v":28.23},{"s":"a","d":122.5,"v":28.35},{"s":"a","d":123.7,"v":28.23},{"s":"a","d":125,"v":28.35},{"s":"a","d":126.3,"v":28.23},{"s":"a","d":127.5,"v":28.23},{"s":"a","d":128.8,"v":28.23},{"s":"a","d":130,"v":28.35},{"s":"a","d":131.3,"v":28.23},{"s":"a","d":132.5,"v":28.11},{"s":"a","d":133.8,"v":28.11},{"s":"a","d":135,"v":28.23},{"s":"a","d":136.3,"v":28.11},{"s":"a","d":137.5,"v":28.0},{"s":"a","d":138.8,"v":28.0},{"s":"a","d":140.1,"v":28.11},{"s":"a","d":141.3,"v":27.88},{"s":"a","d":142.6,"v":27.88},{"s":"a","d":143.8,"v":27.76},{"s":"a","d":145.1,"v":27.64},{"s":"a","d":146.3,"v":27.52},{"s":"a","d":147.6,"v":27.41},{"s":"a","d":148.8,"v":27.29},{"s":"a","d":150.1,"v":27.17},{"s":"a","d":151.3,"v":27.05},{"s":"a","d":152.6,"v":26.93},{"s":"a","d":153.9,"v":26.82},{"s":"a","d":155.1,"v":26.58},{"s":"a","d":156.4,"v":26.34},{"s":"a","d":157.6,"v":26.11},{"s":"a","d":158.9,"v":25.99},{"s":"a","d":160.1,"v":26.23},{"s":"a","d":161.4,"v":25.99},{"s":"a","d":162.6,"v":26.11},{"s":"a","d":163.9,"v":25.75},{"s":"a","d":165.1,"v":25.75},{"s":"a","d":166.4,"v":25.64},{"s":"a","d":167.7,"v":25.52},{"s":"a","d":168.9,"v":25.4},{"s":"a","d":170.2,"v":25.17},{"s":"a","d":171.4,"v":25.05},{"s":"a","d":172.7,"v":24.81},{"s":"a","d":173.9,"v":24.69},{"s":"a","d":175.2,"v":24.46},{"s":"a","d":176.4,"v":24.34},{"s":"a","d":177.7,"v":24.34},{"s":"a","d":178.9,"v":24.46},{"s":"a","d":180.2,"v":23.99},{"s":"a","d":181.5,"v":24.1},{"s":"a","d":182.3,"v":24.22},
{"s":"o","d":0,"v":15.85},{"s":"o","d":1.3,"v":19.39},{"s":"o","d":2.5,"v":19.39},{"s":"o","d":3.8,"v":19.39},{"s":"o","d":4.6,"v":20.68},{"s":"o","d":5.4,"v":17.5},{"s":"o","d":6.7,"v":11.84},{"s":"o","d":7.9,"v":13.02},{"s":"o","d":8.8,"v":14.2},{"s":"o","d":10,"v":13.49},{"s":"o","d":10.9,"v":12.31},{"s":"o","d":12.1,"v":15.85},{"s":"o","d":13.4,"v":18.21},{"s":"o","d":14.6,"v":21.63},{"s":"o","d":15.9,"v":21.75},{"s":"o","d":17.2,"v":21.75},{"s":"o","d":18.4,"v":22.69},{"s":"o","d":19.7,"v":18.44},{"s":"o","d":20.9,"v":16.2},{"s":"o","d":22.2,"v":19.39},{"s":"o","d":23.4,"v":21.27},{"s":"o","d":24.7,"v":22.22},{"s":"o","d":25.9,"v":20.33},{"s":"o","d":26.8,"v":14.91},{"s":"o","d":27.6,"v":17.74},{"s":"o","d":28.9,"v":17.5},{"s":"o","d":29.7,"v":16.56},{"s":"o","d":31,"v":18.68},{"s":"o","d":32.2,"v":20.33},{"s":"o","d":33.5,"v":21.51},{"s":"o","d":34.7,"v":22.92},{"s":"o","d":36,"v":23.63},{"s":"o","d":37.2,"v":22.45},{"s":"o","d":38.5,"v":25.99},{"s":"o","d":39.7,"v":25.05},{"s":"o","d":41,"v":25.28},{"s":"o","d":41.8,"v":25.05},{"s":"o","d":42.7,"v":25.4},{"s":"o","d":43.9,"v":24.93},{"s":"o","d":44.8,"v":25.75},{"s":"o","d":46,"v":23.4},{"s":"o","d":47.3,"v":21.27},{"s":"o","d":48.5,"v":19.62},{"s":"o","d":49.4,"v":21.04},{"s":"o","d":50.6,"v":23.75},{"s":"o","d":51.9,"v":18.21},{"s":"o","d":53.1,"v":21.51},{"s":"o","d":54.4,"v":23.63},{"s":"o","d":55.6,"v":25.17},{"s":"o","d":56.9,"v":24.34},{"s":"o","d":58.2,"v":25.99},{"s":"o","d":59.4,"v":26.7},{"s":"o","d":60.7,"v":27.88},{"s":"o","d":61.9,"v":26.7},{"s":"o","d":62.8,"v":25.28},{"s":"o","d":64,"v":26.23},{"s":"o","d":64.9,"v":27.17},{"s":"o","d":66.1,"v":24.58},{"s":"o","d":67.4,"v":22.69},{"s":"o","d":68.2,"v":21.98},{"s":"o","d":69,"v":23.16},{"s":"o","d":70.3,"v":23.87},{"s":"o","d":71.5,"v":25.75},{"s":"o","d":72.8,"v":29.06},{"s":"o","d":74.1,"v":26.23},{"s":"o","d":75.3,"v":24.58},{"s":"o","d":76.6,"v":27.76},{"s":"o","d":77.8,"v":27.76},{"s":"o","d":79.1,"v":27.17},{"s":"o","d":80.3,"v":26.46},{"s":"o","d":81.6,"v":27.88},{"s":"o","d":82.8,"v":25.99},{"s":"o","d":83.7,"v":21.86},{"s":"o","d":84.9,"v":23.63},{"s":"o","d":86.1,"v":22.45},{"s":"o","d":87.4,"v":23.87},{"s":"o","d":88.6,"v":24.34},{"s":"o","d":89.9,"v":25.52},{"s":"o","d":91.1,"v":26.7},{"s":"o","d":92.4,"v":27.41},{"s":"o","d":93.6,"v":28.7},{"s":"o","d":94.9,"v":28.11},{"s":"o","d":95.7,"v":27.17},{"s":"o","d":97,"v":27.64},{"s":"o","d":98.2,"v":26.93},{"s":"o","d":99.1,"v":26.23},{"s":"o","d":100.3,"v":28.11},{"s":"o","d":101.2,"v":28.82},{"s":"o","d":102.4,"v":27.76},{"s":"o","d":103.7,"v":28.47},{"s":"o","d":104.5,"v":27.76},{"s":"o","d":105.8,"v":28.82},{"s":"o","d":107,"v":28.11},{"s":"o","d":108.3,"v":28.7},{"s":"o","d":109.1,"v":28.82},{"s":"o","d":110.4,"v":27.88},{"s":"o","d":111.2,"v":28.47},{"s":"o","d":112.4,"v":27.64},{"s":"o","d":113.7,"v":27.41},{"s":"o","d":114.5,"v":28.58},{"s":"o","d":115.4,"v":28.23},{"s":"o","d":116.6,"v":28.35},{"s":"o","d":117.9,"v":29.06},{"s":"o","d":119.1,"v":30.0},{"s":"o","d":120.4,"v":31.77},{"s":"o","d":121.7,"v":30.94},{"s":"o","d":122.9,"v":30.59},{"s":"o","d":124.2,"v":30.47},{"s":"o","d":125.4,"v":29.53},{"s":"o","d":126.7,"v":28.11},{"s":"o","d":127.9,"v":27.17},{"s":"o","d":129.2,"v":27.05},{"s":"o","d":130.4,"v":28.58},{"s":"o","d":131.7,"v":30.47},{"s":"o","d":132.9,"v":30.94},{"s":"o","d":134.2,"v":31.06},{"s":"o","d":135.5,"v":30.24},{"s":"o","d":136.3,"v":29.06},{"s":"o","d":137.5,"v":28.11},{"s":"o","d":138.4,"v":29.29},{"s":"o","d":139.6,"v":30.24},{"s":"o","d":140.9,"v":30.24},{"s":"o","d":141.7,"v":29.76},{"s":"o","d":142.6,"v":28.11},{"s":"o","d":143.8,"v":29.06},{"s":"o","d":145.1,"v":28.82},{"s":"o","d":146.3,"v":28.23},{"s":"o","d":147.6,"v":28.47},{"s":"o","d":148.8,"v":27.88},{"s":"o","d":150.1,"v":27.41},{"s":"o","d":151.3,"v":27.88},{"s":"o","d":152.6,"v":27.17},{"s":"o","d":153.9,"v":26.93},{"s":"o","d":155.1,"v":27.76},{"s":"o","d":156.4,"v":28.82},{"s":"o","d":157.6,"v":28.11},{"s":"o","d":158.9,"v":27.29},{"s":"o","d":160.1,"v":27.88},{"s":"o","d":161,"v":27.76},{"s":"o","d":162.2,"v":26.7},{"s":"o","d":163.5,"v":25.75},{"s":"o","d":164.7,"v":24.34},{"s":"o","d":165.6,"v":25.75},{"s":"o","d":166.8,"v":26.46},{"s":"o","d":168.1,"v":25.99},{"s":"o","d":169.3,"v":26.93},{"s":"o","d":170.6,"v":27.41},{"s":"o","d":171.8,"v":27.29},{"s":"o","d":173.1,"v":27.41},{"s":"o","d":173.9,"v":25.99},{"s":"o","d":174.8,"v":26.7},{"s":"o","d":176,"v":24.69},{"s":"o","d":177.3,"v":25.75},{"s":"o","d":178.5,"v":26.58},{"s":"o","d":179.4,"v":25.28},{"s":"o","d":180.6,"v":25.4},{"s":"o","d":181.9,"v":27.17},
{"s":"t","d":0,"v":30},{"s":"t","d":182,"v":30}
]
},
"resolve":{"scale":{"color":"independent","strokeDash":"independent","opacity":"independent"},"legend":{"color":"independent","strokeDash":"independent","opacity":"independent"}},
"spacing":26,
"vconcat":[
{"hconcat":[
{"title":{"text":"A","anchor":"start","fontSize":17,"offset":-17,"dx":5},
 "resolve":{"scale":{"color":"independent","strokeDash":"independent","opacity":"independent"},"legend":{"color":"independent","strokeDash":"independent","opacity":"independent"}},
 "vconcat":[{
 "data":{"name":"A"},"title":{"text":"Kolkata 1998","frame":"group"},"width":328,"height":319,
 "encoding":{
  "x":{"field":"d","type":"quantitative","title":"Date","scale":{"domain":[-8.7,190.9],"nice":false,"zero":false},"axis":{"values":[0,30,61,91,122,153,183],"labelExpr":"['Apr','May','Jun','Jul','Aug','Sep','Oct'][indexof([0,30,61,91,122,153,183], datum.value)]"}},
  "y":{"field":"v","type":"quantitative","title":"HIₘₐₓ °C","scale":{"domain":[30.7,55.47],"nice":false,"zero":false},"axis":{"values":[35,40,45,50,55],"minExtent":22,"maxExtent":22,"titlePadding":5}},
  "color":{"field":"s","type":"nominal","scale":{"domain":["a","o","t"],"range":["#4d4d4d","#cc2222","#5a5ad0"]},"legend":{"title":null,"orient":"bottom-right","offset":6,"labelExpr":"datum.value == 'a' ? 'avg. HIₘₐₓ' : datum.value == 'o' ? '1998 HIₘₐₓ' : '40.6°C'"}},
  "strokeDash":{"field":"s","type":"nominal","scale":{"domain":["a","o","t"],"range":[[1,0],[1,0],[2,3.3]]},"legend":{"title":null,"orient":"bottom-right","offset":6,"labelExpr":"datum.value == 'a' ? 'avg. HIₘₐₓ' : datum.value == 'o' ? '1998 HIₘₐₓ' : '40.6°C'"}},
  "opacity":{"field":"s","type":"nominal","scale":{"domain":["a","o","t"],"range":[0.8,0.75,1]},"legend":{"title":null,"orient":"bottom-right","offset":6,"labelExpr":"datum.value == 'a' ? 'avg. HIₘₐₓ' : datum.value == 'o' ? '1998 HIₘₐₓ' : '40.6°C'"}}
 },
 "layer":[
  {"transform":[{"filter":"datum.s == 'a'"}],"mark":{"type":"line","strokeWidth":2,"strokeJoin":"round"}},
  {"transform":[{"filter":"datum.s == 'o'"}],"mark":{"type":"line","strokeWidth":2,"strokeJoin":"round"}},
  {"transform":[{"filter":"datum.s == 't'"}],"mark":{"type":"line","strokeWidth":2}}
 ]}]},
{"title":{"text":"B","anchor":"start","fontSize":17,"offset":-17,"dx":5},
 "resolve":{"scale":{"color":"independent","strokeDash":"independent","opacity":"independent"},"legend":{"color":"independent","strokeDash":"independent","opacity":"independent"}},
 "vconcat":[{
 "data":{"name":"B"},"title":{"text":"Kolkata 1998","frame":"group"},"width":319,"height":319,
 "encoding":{
  "x":{"field":"d","type":"quantitative","title":"Date","scale":{"domain":[-8.7,185.6],"nice":false,"zero":false},"axis":{"values":[0,30,61,91,122,153,183],"labelExpr":"['Apr','May','Jun','Jul','Aug','Sep','Oct'][indexof([0,30,61,91,122,153,183], datum.value)]"}},
  "y":{"field":"v","type":"quantitative","title":"WBGTₘₐₓ °C","scale":{"domain":[24.17,33.74],"nice":false,"zero":false},"axis":{"values":[26,28,30,32],"minExtent":22,"maxExtent":22,"titlePadding":5}},
  "color":{"field":"s","type":"nominal","scale":{"domain":["a","o","t"],"range":["#4d4d4d","#cc2222","#5a5ad0"]},"legend":{"title":null,"orient":"bottom-right","offset":6,"labelExpr":"datum.value == 'a' ? 'avg. WBGTₘₐₓ' : datum.value == 'o' ? '1998 WBGTₘₐₓ' : '30°C'"}},
  "strokeDash":{"field":"s","type":"nominal","scale":{"domain":["a","o","t"],"range":[[1,0],[1,0],[2,3.3]]},"legend":{"title":null,"orient":"bottom-right","offset":6,"labelExpr":"datum.value == 'a' ? 'avg. WBGTₘₐₓ' : datum.value == 'o' ? '1998 WBGTₘₐₓ' : '30°C'"}},
  "opacity":{"field":"s","type":"nominal","scale":{"domain":["a","o","t"],"range":[0.8,0.75,1]},"legend":{"title":null,"orient":"bottom-right","offset":6,"labelExpr":"datum.value == 'a' ? 'avg. WBGTₘₐₓ' : datum.value == 'o' ? '1998 WBGTₘₐₓ' : '30°C'"}}
 },
 "layer":[
  {"transform":[{"filter":"datum.s == 'a'"}],"mark":{"type":"line","strokeWidth":2,"strokeJoin":"round"}},
  {"transform":[{"filter":"datum.s == 'o'"}],"mark":{"type":"line","strokeWidth":2,"strokeJoin":"round"}},
  {"transform":[{"filter":"datum.s == 't'"}],"mark":{"type":"line","strokeWidth":2}}
 ]}]}
],"spacing":20,
"resolve":{"scale":{"color":"independent","strokeDash":"independent","opacity":"independent"},"legend":{"color":"independent","strokeDash":"independent","opacity":"independent"}}},
{"hconcat":[
{"title":{"text":"C","anchor":"start","fontSize":17,"offset":-8,"dx":5},
 "resolve":{"scale":{"color":"independent","strokeDash":"independent","opacity":"independent"},"legend":{"color":"independent","strokeDash":"independent","opacity":"independent"}},
 "vconcat":[{
 "data":{"name":"C"},"title":{"text":"Aleppo 2010","frame":"group"},"width":328,"height":320,
 "encoding":{
  "x":{"field":"d","type":"quantitative","title":"Date","scale":{"domain":[-8.7,190.9],"nice":false,"zero":false},"axis":{"values":[0,30,61,91,122,153,183],"labelExpr":"['Apr','May','Jun','Jul','Aug','Sep','Oct'][indexof([0,30,61,91,122,153,183], datum.value)]"}},
  "y":{"field":"v","type":"quantitative","title":"HIₘₐₓ °C","scale":{"domain":[14.54,48.98],"nice":false,"zero":false},"axis":{"values":[15,20,25,30,35,40,45],"minExtent":22,"maxExtent":22,"titlePadding":5}},
  "color":{"field":"s","type":"nominal","scale":{"domain":["a","o","t"],"range":["#4d4d4d","#cc2222","#5a5ad0"]},"legend":{"title":null,"orient":"bottom-right","offset":6,"labelExpr":"datum.value == 'a' ? 'avg. HIₘₐₓ' : datum.value == 'o' ? '2010 HIₘₐₓ' : '40.6°C'"}},
  "strokeDash":{"field":"s","type":"nominal","scale":{"domain":["a","o","t"],"range":[[1,0],[1,0],[2,3.3]]},"legend":{"title":null,"orient":"bottom-right","offset":6,"labelExpr":"datum.value == 'a' ? 'avg. HIₘₐₓ' : datum.value == 'o' ? '2010 HIₘₐₓ' : '40.6°C'"}},
  "opacity":{"field":"s","type":"nominal","scale":{"domain":["a","o","t"],"range":[0.8,0.75,1]},"legend":{"title":null,"orient":"bottom-right","offset":6,"labelExpr":"datum.value == 'a' ? 'avg. HIₘₐₓ' : datum.value == 'o' ? '2010 HIₘₐₓ' : '40.6°C'"}}
 },
 "layer":[
  {"transform":[{"filter":"datum.s == 'a'"}],"mark":{"type":"line","strokeWidth":2,"strokeJoin":"round"}},
  {"transform":[{"filter":"datum.s == 'o'"}],"mark":{"type":"line","strokeWidth":2,"strokeJoin":"round"}},
  {"transform":[{"filter":"datum.s == 't'"}],"mark":{"type":"line","strokeWidth":2}}
 ]}]},
{"title":{"text":"D","anchor":"start","fontSize":17,"offset":-8,"dx":5},
 "resolve":{"scale":{"color":"independent","strokeDash":"independent","opacity":"independent"},"legend":{"color":"independent","strokeDash":"independent","opacity":"independent"}},
 "vconcat":[{
 "data":{"name":"D"},"title":{"text":"Aleppo 2010","frame":"group"},"width":310,"height":316,
 "encoding":{
  "x":{"field":"d","type":"quantitative","title":"Date","scale":{"domain":[-9.2,185.3],"nice":false,"zero":false},"axis":{"values":[0,30,61,91,122,153,183],"labelExpr":"['Apr','May','Jun','Jul','Aug','Sep','Oct'][indexof([0,30,61,91,122,153,183], datum.value)]"}},
  "y":{"field":"v","type":"quantitative","title":"WBGTₘₐₓ °C","scale":{"domain":[10.85,33.18],"nice":false,"zero":false},"axis":{"values":[12.5,15,17.5,20,22.5,25,27.5,30,32.5],"format":".1f","minExtent":31,"maxExtent":31,"titlePadding":3}},
  "color":{"field":"s","type":"nominal","scale":{"domain":["a","o","t"],"range":["#4d4d4d","#cc2222","#5a5ad0"]},"legend":{"title":null,"orient":"bottom-right","offset":6,"labelExpr":"datum.value == 'a' ? 'avg. WBGTₘₐₓ' : datum.value == 'o' ? '2010 WBGTₘₐₓ' : '30°C'"}},
  "strokeDash":{"field":"s","type":"nominal","scale":{"domain":["a","o","t"],"range":[[1,0],[1,0],[2,3.3]]},"legend":{"title":null,"orient":"bottom-right","offset":6,"labelExpr":"datum.value == 'a' ? 'avg. WBGTₘₐₓ' : datum.value == 'o' ? '2010 WBGTₘₐₓ' : '30°C'"}},
  "opacity":{"field":"s","type":"nominal","scale":{"domain":["a","o","t"],"range":[0.8,0.75,1]},"legend":{"title":null,"orient":"bottom-right","offset":6,"labelExpr":"datum.value == 'a' ? 'avg. WBGTₘₐₓ' : datum.value == 'o' ? '2010 WBGTₘₐₓ' : '30°C'"}}
 },
 "layer":[
  {"transform":[{"filter":"datum.s == 'a'"}],"mark":{"type":"line","strokeWidth":2,"strokeJoin":"round"}},
  {"transform":[{"filter":"datum.s == 'o'"}],"mark":{"type":"line","strokeWidth":2,"strokeJoin":"round"}},
  {"transform":[{"filter":"datum.s == 't'"}],"mark":{"type":"line","strokeWidth":2}}
 ]}]}
],"spacing":20,
"resolve":{"scale":{"color":"independent","strokeDash":"independent","opacity":"independent"},"legend":{"color":"independent","strokeDash":"independent","opacity":"independent"}}}
]
}
